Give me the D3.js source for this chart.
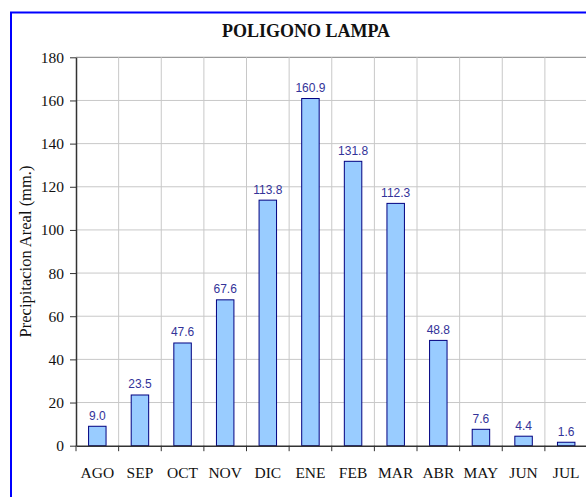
<!DOCTYPE html>
<html><head><meta charset="utf-8">
<script src="https://cdn.jsdelivr.net/npm/d3@7"></script>
<style>html,body{margin:0;padding:0;background:#fff;overflow:hidden}</style>
</head><body>
<svg id="c" width="586" height="497"></svg>
<script>
const months = ["AGO","SEP","OCT","NOV","DIC","ENE","FEB","MAR","ABR","MAY","JUN","JUL"];
const precip = [9.0,23.5,47.6,67.6,113.8,160.9,131.8,112.3,48.8,7.6,4.4,1.6];
const yTicks = [0,20,40,60,80,100,120,140,160,180];
const title = "POLIGONO LAMPA";
const yTitle = "Precipitacion Areal (mm.)";

const svg = d3.select("#c");
const L = 76, R = 587.5, T = 57.3, B = 445.7;
const serif = "'Liberation Serif', 'DejaVu Serif', serif";
const sans = "'Liberation Sans', Arial, sans-serif";

// outer frame
svg.append("rect").attr("x",11).attr("y",12.5).attr("width",600).attr("height",520)
  .attr("fill","#fff").attr("stroke","#0000ff").attr("stroke-width",2);

const x = d3.scaleBand().domain(months).range([L,R]).paddingInner(0).paddingOuter(0);
const y = d3.scaleLinear().domain([0,180]).range([B,T]);

// horizontal gridlines
svg.append("g").selectAll("line").data(yTicks.filter(d=>d>0)).join("line")
  .attr("x1",L).attr("x2",R).attr("y1",d=>y(d)).attr("y2",d=>y(d))
  .attr("stroke",d=>d===180?"#808080":"#c8c8c8").attr("stroke-width",1);
// vertical gridlines at category boundaries
svg.append("g").selectAll("line").data(months.slice(1)).join("line")
  .attr("x1",d=>x(d)).attr("x2",d=>x(d)).attr("y1",T).attr("y2",B)
  .attr("stroke","#c8c8c8").attr("stroke-width",1);

// bars
const bw = x.bandwidth()*0.41;
svg.append("g").selectAll("rect").data(precip).join("rect")
  .attr("x",(d,i)=>x(months[i])+x.bandwidth()/2-bw/2)
  .attr("y",d=>y(d)).attr("width",bw).attr("height",d=>B-y(d))
  .attr("fill","#99ccff").attr("stroke","#000080").attr("stroke-width",1);

// value labels
svg.append("g").selectAll("text").data(precip).join("text")
  .attr("x",(d,i)=>x(months[i])+x.bandwidth()/2)
  .attr("y",d=>y(d)-6.5)
  .attr("text-anchor","middle").attr("font-family",sans).attr("font-size",12)
  .attr("fill","#333399").text(d=>d.toFixed(1));

// y axis
const ya = svg.append("g").attr("transform",`translate(${L},0)`)
  .call(d3.axisLeft(y).tickValues(yTicks).tickSize(6).tickPadding(6).tickSizeOuter(0));
ya.select(".domain").attr("stroke","#333").attr("stroke-width",1.5);
ya.selectAll(".tick line").attr("stroke","#333");
ya.selectAll("text").attr("font-family",serif).attr("font-size",15.5).attr("fill","#111");

// x axis
const xa = svg.append("g").attr("transform",`translate(0,${B})`)
  .call(d3.axisBottom(x).tickSize(0).tickPadding(21).tickSizeOuter(0));
xa.select(".domain").attr("stroke","#333").attr("stroke-width",1.5);
xa.selectAll("text").attr("font-family",serif).attr("font-size",15.5).attr("fill","#111");
// boundary tick marks
svg.append("g").selectAll("line").data(months).join("line")
  .attr("x1",d=>x(d)).attr("x2",d=>x(d)).attr("y1",B).attr("y2",B+5.5)
  .attr("stroke","#333").attr("stroke-width",1);

// titles
svg.append("text").attr("x",306).attr("y",37).attr("text-anchor","middle")
  .attr("font-family",serif).attr("font-weight","bold").attr("font-size",18)
  .attr("fill","#111").text(title);
svg.append("text").attr("transform",`translate(31,${(T+B)/2}) rotate(-90)`)
  .attr("text-anchor","middle").attr("font-family",serif).attr("font-size",16.5)
  .attr("fill","#111").text(yTitle);
</script>
</body></html>
